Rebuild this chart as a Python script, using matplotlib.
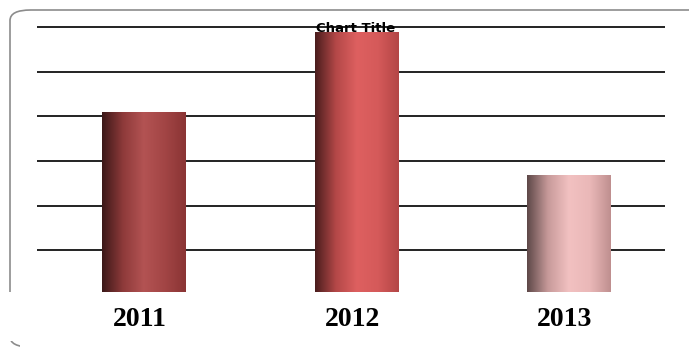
import matplotlib.pyplot as plt
import numpy as np
from matplotlib.colors import LinearSegmentedColormap
from matplotlib.patches import FancyBboxPatch, Rectangle

years = ['2011', '2012', '2013']
values = [4.09, 5.88, 2.68]

# left-to-right shading of each cylinder-ish bar
shades = [
    ['#3b1818', '#8e3a3a', '#b35353', '#a24545', '#8a3434'],
    ['#4a1d1d', '#b44848', '#de6060', '#d55a5a', '#b34646'],
    ['#5e4848', '#c79a9a', '#f2c1c1', '#eab8b8', '#bf8f8f'],
]

fig = plt.figure(figsize=(6.89, 3.51), dpi=100)
fig.patch.set_facecolor('white')

# rounded chart border, lower part washed out
frame = FancyBboxPatch((10 / 689, 4 / 351), 700 / 689, 337 / 351,
                       boxstyle='round,pad=0,rounding_size=0.03',
                       transform=fig.transFigure, fill=False,
                       edgecolor='#8c8c8c', linewidth=1.2, zorder=-3)
fig.patches.append(frame)
fig.patches.append(Rectangle((0, 10 / 351), 1, 49 / 351, transform=fig.transFigure,
                             facecolor='white', edgecolor='none', zorder=-2))
fig.patches.append(Rectangle((20 / 689, 0), 1, 12 / 351, transform=fig.transFigure,
                             facecolor='white', edgecolor='none', zorder=-2))

ax = fig.add_axes([37 / 689, 59 / 351, 628 / 689, 274 / 351])
ax.set_facecolor('none')
ax.set_xlim(-0.5035, 2.452)
ax.set_ylim(0.07, 6.2)
ybot = ax.get_ylim()[0]

for y in range(1, 7):
    ax.axhline(y, color='#222222', linewidth=1.4, zorder=1)

x = np.arange(len(years))
bars = ax.bar(x, values, width=0.395, color='none', zorder=2)
for bar, cols in zip(bars, shades):
    cmap = LinearSegmentedColormap.from_list('b', cols)
    grad = np.linspace(0, 1, 256).reshape(1, -1)
    x0, w, h = bar.get_x(), bar.get_width(), bar.get_height()
    im = ax.imshow(grad, cmap=cmap, aspect='auto',
                   extent=(x0, x0 + w, ybot, h), zorder=3)
    im.set_clip_path(bar)
ax.set_xlim(-0.5035, 2.452)
ax.set_ylim(0.07, 6.2)

for s in ax.spines.values():
    s.set_visible(False)
ax.set_yticks([])
ax.set_xticks([])

for xi, lab in zip(x, years):
    ax.text(xi - 0.02, -0.55, lab, ha='center', va='center', fontsize=20,
            fontweight='bold', family='Liberation Serif', clip_on=False)

fig.text(356 / 689, 1 - 29 / 351, 'Chart Title', ha='center', va='center',
         fontsize=9.5, fontweight='bold', family='DejaVu Sans', zorder=5)

fig.savefig('out.png', dpi=100, facecolor='white')
